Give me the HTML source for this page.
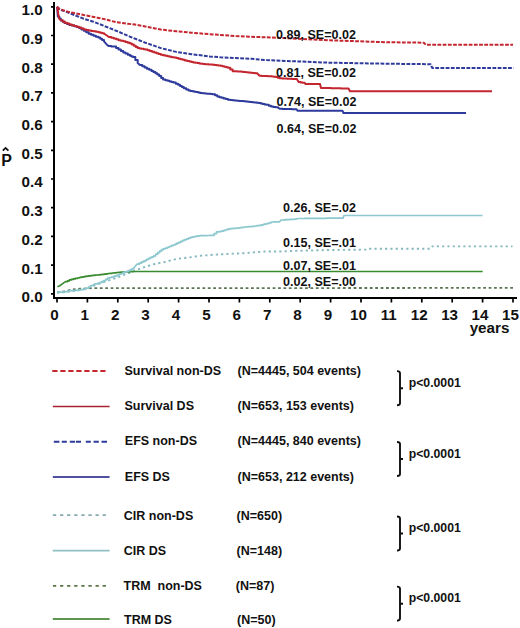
<!DOCTYPE html>
<html><head><meta charset="utf-8"><style>
html,body{margin:0;padding:0;background:#fff;}
body{width:520px;height:628px;overflow:hidden;}
svg{display:block;font-family:"Liberation Sans",sans-serif;}
text{fill:#111;}
</style></head><body>
<svg width="520" height="628" viewBox="0 0 520 628">
<polyline points="57.0,292.4 66.0,291.2 72.0,289.4 80.0,288.7 92.0,288.2 513.0,287.9" fill="none" stroke="#5e7656" stroke-width="1.8" stroke-linejoin="round" stroke-dasharray="2.8 2.6"/>
<polyline points="57.0,292.6 63.6,292.2 73.2,291.0 80.9,290.0 86.7,288.6 92.0,286.5 100.0,283.4 109.2,280.4 124.8,274.6 127.7,273.5 141.5,268.1 153.8,264.2 164.6,262.0 176.9,258.8 190.4,257.3 199.6,255.8 213.5,254.7 228.8,253.9 244.2,253.2 255.0,252.2 265.4,251.5 280.8,251.5 296.2,250.8 330.0,250.0 368.0,249.6 370.0,248.7 430.8,248.7 432.3,246.4 512.5,246.4" fill="none" stroke="#86b8c0" stroke-width="1.9" stroke-linejoin="round" stroke-dasharray="2.2 3.1"/>
<polyline points="57.4,286.8 59.8,285.7 62.7,283.6 65.5,281.6 67.5,281.6 67.5,280.8 69.4,280.8 69.4,279.9 71.3,279.9 71.3,279.4 73.3,279.4 73.3,278.9 75.2,278.9 75.2,278.4 77.1,278.4 77.1,278.0 79.0,278.0 79.0,277.5 80.9,277.5 80.9,277.1 82.8,277.1 82.8,276.8 84.8,276.8 84.8,276.4 86.7,276.4 86.7,276.1 88.6,276.1 88.6,275.9 90.6,275.9 90.6,275.6 92.5,275.6 92.5,275.4 94.4,275.4 94.4,275.2 96.3,275.2 96.3,275.0 98.1,275.0 98.1,274.8 100.0,274.8 100.0,274.6 102.0,274.6 102.0,274.4 104.0,274.4 104.0,274.2 105.9,274.2 105.9,273.9 107.8,273.9 107.8,273.5 109.9,273.5 109.9,273.3 112.1,273.3 112.1,273.0 114.2,273.0 114.2,272.8 116.4,272.8 116.4,272.5 118.5,272.5 118.5,272.3 120.7,272.3 120.7,272.2 122.9,272.2 122.9,272.1 125.1,272.1 125.1,272.0 127.2,272.0 127.2,271.8 129.4,271.8 129.4,271.7 131.6,271.7 131.6,271.6 133.8,271.6 133.8,271.5 482.7,271.5" fill="none" stroke="#3a8a30" stroke-width="1.7" stroke-linejoin="round"/>
<polyline points="57.0,292.3 59.2,292.3 59.2,292.2 61.4,292.2 61.4,292.1 63.6,292.1 63.6,292.0 65.5,292.0 65.5,291.6 67.5,291.6 67.5,291.2 69.4,291.2 69.4,290.8 73.2,290.6 75.1,290.6 75.1,290.4 77.1,290.4 77.1,290.1 79.0,290.1 79.0,289.9 80.9,289.9 80.9,289.6 82.8,289.6 82.8,289.4 84.8,289.4 84.8,289.2 86.7,288.2 88.6,288.2 88.6,287.0 90.5,287.0 90.5,285.8 92.5,285.4 95.3,283.8 97.8,283.8 97.8,283.1 100.2,283.1 100.2,282.4 102.1,282.4 102.1,281.4 104.0,281.4 104.0,280.5 105.8,280.5 105.8,279.3 107.7,279.3 107.7,278.1 109.6,278.1 109.6,277.5 111.6,277.5 111.6,277.0 113.5,277.0 113.5,276.4 115.4,276.4 115.4,275.8 117.3,275.8 117.3,275.0 119.2,275.0 119.2,274.2 121.2,274.2 121.2,273.5 123.1,273.5 123.1,272.7 125.0,272.7 125.0,271.9 127.0,271.9 127.0,271.1 128.9,271.1 128.9,270.4 130.8,270.4 130.8,269.6 132.4,269.6 132.4,268.6 134.0,268.6 134.0,267.7 136.9,264.2 139.2,264.2 139.2,263.1 141.6,263.1 141.6,261.9 143.9,261.9 143.9,260.8 146.2,260.8 146.2,259.6 148.1,259.6 148.1,258.7 150.0,258.7 150.0,257.7 151.9,257.7 151.9,256.8 153.8,256.8 153.8,255.8 155.7,255.8 155.7,254.2 157.7,254.2 157.7,252.7 159.6,252.7 159.6,251.2 161.5,251.2 161.5,249.6 163.4,249.6 163.4,248.8 165.3,248.8 165.3,248.1 167.3,248.1 167.3,247.3 169.2,247.3 169.2,246.5 171.1,246.5 171.1,245.7 173.1,245.7 173.1,245.0 175.0,245.0 175.0,244.2 176.9,244.2 176.9,243.2 178.8,243.2 178.8,242.3 180.8,242.3 180.8,241.3 182.7,241.3 182.7,240.4 184.6,240.4 184.6,239.6 186.6,239.6 186.6,238.9 188.5,238.9 188.5,238.1 190.4,238.1 190.4,237.3 192.3,237.3 192.3,236.9 194.2,236.9 194.2,236.6 196.2,236.6 196.2,236.2 198.1,236.2 198.1,235.8 200.4,235.8 200.4,235.7 202.7,235.7 202.7,235.6 205.0,235.6 205.0,235.6 207.3,235.6 207.3,235.5 209.6,235.5 209.6,235.4 211.9,235.4 211.9,235.3 214.2,235.3 214.2,233.6 216.5,233.6 216.5,231.9 218.8,231.9 218.8,231.6 221.2,231.6 221.2,231.2 223.1,231.2 223.1,230.6 225.0,230.6 225.0,230.0 226.9,230.0 226.9,229.4 228.8,229.4 228.8,228.8 230.7,228.8 230.7,228.6 232.7,228.6 232.7,228.4 234.6,228.4 234.6,228.3 236.5,228.3 236.5,228.1 238.4,228.1 238.4,227.8 240.3,227.8 240.3,227.6 242.3,227.6 242.3,227.3 244.2,227.3 244.2,227.0 246.1,227.0 246.1,226.9 248.1,226.9 248.1,226.7 250.0,226.7 250.0,226.6 252.3,226.6 252.3,226.3 254.6,226.3 254.6,226.0 256.9,226.0 256.9,225.7 259.2,225.7 259.2,225.4 261.5,225.4 261.5,224.8 263.9,224.8 263.9,224.2 266.2,224.2 266.2,223.7 268.5,223.7 268.5,223.1 270.0,223.1 270.0,222.6 271.5,222.6 271.5,222.0 273.5,222.0 273.5,221.9 275.6,221.9 275.6,221.8 277.6,221.8 277.6,221.8 279.6,221.8 279.6,221.7 281.0,220.0 283.2,220.0 283.2,219.9 285.4,219.9 285.4,219.7 287.6,219.7 287.6,219.6 289.9,219.6 289.9,219.4 292.1,219.4 292.1,219.3 294.3,219.3 294.3,219.1 296.5,219.1 296.5,219.0 297.7,218.5 300.1,218.5 300.1,218.5 302.5,218.5 302.5,218.5 304.9,218.5 304.9,218.4 307.2,218.4 307.2,218.4 309.6,218.4 309.6,218.4 312.0,218.4 312.0,218.4 314.4,218.4 314.4,218.4 316.8,218.4 316.8,218.3 319.2,218.3 319.2,218.3 321.5,218.3 321.5,218.3 323.9,218.3 323.9,218.3 326.3,218.3 326.3,218.2 328.7,218.2 328.7,218.2 331.1,218.2 331.1,218.2 333.5,218.2 333.5,218.2 335.8,218.2 335.8,218.2 338.2,218.2 338.2,218.1 340.6,218.1 340.6,218.1 343.0,218.1 343.0,218.1 344.0,215.5 482.5,215.5" fill="none" stroke="#8cc8ce" stroke-width="1.7" stroke-linejoin="round"/>
<polyline points="57.0,6.8 59.8,9.7 64.6,11.1 69.4,13.0 74.2,15.0 79.0,16.9 83.8,18.8 88.7,20.3 93.5,21.7 98.3,23.6 104.0,25.9 108.8,27.8 118.5,31.7 130.0,36.7 145.4,42.7 160.8,48.1 176.2,51.9 191.5,54.2 210.0,56.5 220.4,57.3 235.8,58.1 251.2,58.8 266.5,60.1 285.0,60.9 330.0,62.7 384.8,63.7 430.6,64.2 432.2,67.9 513.5,67.9" fill="none" stroke="#2e3a9c" stroke-width="2.0" stroke-linejoin="round" stroke-dasharray="3.8 1.4"/>
<polyline points="57.0,6.8 59.8,9.2 64.6,10.7 69.4,12.1 74.2,13.1 79.0,14.0 83.8,15.0 88.7,15.9 93.5,16.9 98.3,17.9 105.0,19.3 116.5,22.3 124.2,23.3 135.0,24.6 145.4,26.5 160.8,29.6 176.2,31.2 191.5,32.7 210.0,34.2 220.4,35.0 235.8,36.1 251.2,36.8 266.5,37.3 285.0,38.1 330.0,40.3 384.8,42.2 423.8,42.7 425.9,44.8 513.0,44.8" fill="none" stroke="#c42630" stroke-width="2.0" stroke-linejoin="round" stroke-dasharray="3.8 1.4"/>
<polyline points="57.0,6.8 57.3,9.0 57.8,16.5 59.3,16.5 59.3,18.5 60.8,18.5 60.8,20.5 62.7,20.5 62.7,21.8 64.6,21.8 64.6,23.0 67.0,23.0 67.0,23.9 69.4,23.9 69.4,24.9 71.8,24.9 71.8,25.6 74.2,25.6 74.2,26.3 76.6,26.3 76.6,27.1 79.0,27.1 79.0,27.9 81.4,27.9 81.4,29.4 83.8,29.4 83.8,30.8 86.2,30.8 86.2,32.2 88.7,32.2 88.7,33.7 91.1,33.7 91.1,34.7 93.5,34.7 93.5,35.7 95.9,35.7 95.9,36.7 98.3,36.7 98.3,37.6 100.2,37.6 100.2,38.8 102.1,38.8 102.1,40.1 104.0,40.1 104.0,41.3 106.9,44.7 108.8,46.1 111.2,46.1 111.2,46.4 113.7,46.4 113.7,46.6 116.1,46.6 116.1,48.0 118.5,48.0 118.5,49.5 120.9,49.5 120.9,51.0 123.3,51.0 123.3,52.4 125.5,52.4 125.5,53.5 127.8,53.5 127.8,54.7 130.0,54.7 130.0,55.8 131.5,55.8 131.5,56.4 133.0,56.4 133.0,57.0 135.3,57.0 135.3,60.0 137.7,60.0 137.7,63.0 140.0,65.0 142.3,65.0 142.3,66.2 144.6,66.2 144.6,67.5 146.9,67.5 146.9,68.7 149.2,68.7 149.2,69.8 151.5,69.8 151.5,71.0 153.4,71.0 153.4,72.1 155.4,72.1 155.4,73.3 157.3,73.3 157.3,74.4 159.2,74.4 159.2,76.1 161.2,76.1 161.2,77.9 163.1,77.9 163.1,79.6 165.4,79.6 165.4,80.2 167.7,80.2 167.7,80.8 169.6,80.8 169.6,81.4 171.6,81.4 171.6,81.9 173.5,81.9 173.5,82.5 175.8,82.5 175.8,83.7 178.1,83.7 178.1,84.8 180.0,84.8 180.0,86.0 181.9,86.0 181.9,87.1 183.8,87.1 183.8,88.3 186.2,88.3 186.2,89.4 188.5,89.4 188.5,90.6 190.4,90.6 190.4,91.0 192.3,91.0 192.3,91.3 194.2,91.3 194.2,91.7 196.1,91.7 196.1,92.1 198.1,92.1 198.1,92.5 200.0,92.5 200.0,92.9 202.5,92.9 202.5,93.2 205.0,93.2 205.0,93.5 206.9,93.5 206.9,93.7 208.8,93.7 208.8,93.8 210.8,93.8 210.8,94.0 212.7,94.0 212.7,94.2 215.0,94.2 215.0,95.3 217.3,95.3 217.3,96.5 219.4,96.5 219.4,97.2 221.6,97.2 221.6,97.8 223.7,97.8 223.7,98.5 225.9,98.5 225.9,99.1 228.0,99.1 228.0,99.8 230.2,99.8 230.2,100.0 232.4,100.0 232.4,100.2 234.6,100.2 234.6,100.4 236.9,100.4 236.9,100.7 239.1,100.7 239.1,100.9 241.3,100.9 241.3,101.1 243.5,101.1 243.5,101.3 245.7,101.3 245.7,101.6 247.9,101.6 247.9,101.8 250.1,101.8 250.1,102.1 252.2,102.1 252.2,102.3 254.4,102.3 254.4,102.6 256.6,102.6 256.6,102.8 258.8,102.8 258.8,103.1 260.7,103.1 260.7,103.5 262.6,103.5 262.6,103.9 264.6,103.9 264.6,104.4 266.5,104.4 266.5,104.8 268.8,104.8 268.8,105.7 271.0,105.7 271.0,106.5 273.3,106.5 273.3,106.9 275.7,106.9 275.7,107.3 278.0,107.3 278.0,107.7 280.0,108.8 282.4,108.8 282.4,108.9 284.7,108.9 284.7,108.9 287.1,108.9 287.1,109.0 289.4,109.0 289.4,109.1 291.8,109.1 291.8,109.2 294.1,109.2 294.1,109.2 296.5,109.2 296.5,109.3 297.5,110.8 342.5,110.8 343.5,113.0 466.0,113.0" fill="none" stroke="#2e3a9c" stroke-width="2.0" stroke-linejoin="round"/>
<polyline points="57.0,6.8 57.6,9.0 58.8,17.9 60.8,20.3 62.7,20.3 62.7,21.5 64.6,21.5 64.6,22.7 67.0,22.7 67.0,23.6 69.4,23.6 69.4,24.6 71.8,24.6 71.8,25.3 74.2,25.3 74.2,26.0 76.6,26.0 76.6,26.8 79.0,26.8 79.0,27.5 81.4,27.5 81.4,28.4 83.8,28.4 83.8,29.4 86.2,29.4 86.2,29.9 88.7,29.9 88.7,30.4 91.1,30.4 91.1,30.9 93.5,30.9 93.5,31.3 95.9,31.3 95.9,31.8 98.3,31.8 98.3,32.3 100.2,32.3 100.2,32.7 102.1,32.7 102.1,33.2 104.0,33.2 104.0,33.6 106.9,35.5 108.8,37.0 111.2,37.0 111.2,37.7 113.7,37.7 113.7,38.4 116.1,38.4 116.1,39.3 118.5,39.3 118.5,40.3 120.9,40.3 120.9,40.8 123.3,40.8 123.3,41.3 125.5,41.3 125.5,42.0 127.8,42.0 127.8,42.7 130.0,42.7 130.0,43.4 131.9,43.4 131.9,44.5 133.8,44.5 133.8,45.7 135.8,45.7 135.8,46.9 137.7,46.9 137.7,48.0 139.6,48.0 139.6,48.4 141.6,48.4 141.6,48.8 143.5,48.8 143.5,49.2 145.4,49.2 145.4,49.6 147.6,49.6 147.6,50.3 149.8,50.3 149.8,51.1 152.0,51.1 152.0,51.8 154.2,51.8 154.2,52.6 156.4,52.6 156.4,53.3 158.6,53.3 158.6,54.1 160.8,54.1 160.8,54.8 163.0,54.8 163.0,55.3 165.2,55.3 165.2,55.7 167.4,55.7 167.4,56.2 169.6,56.2 169.6,56.7 171.8,56.7 171.8,57.2 174.0,57.2 174.0,57.6 176.2,57.6 176.2,58.1 178.4,58.1 178.4,58.7 180.6,58.7 180.6,59.2 182.8,59.2 182.8,59.8 184.9,59.8 184.9,60.4 187.1,60.4 187.1,61.0 189.3,61.0 189.3,61.5 191.5,61.5 191.5,62.1 193.4,62.1 193.4,62.5 195.3,62.5 195.3,62.8 197.3,62.8 197.3,63.1 199.2,63.1 199.2,63.5 201.1,63.5 201.1,63.7 203.1,63.7 203.1,64.0 205.0,64.0 205.0,64.2 206.9,64.2 206.9,64.3 208.8,64.3 208.8,64.5 210.8,64.5 210.8,64.6 212.7,64.6 212.7,64.7 214.6,64.7 214.6,65.0 216.6,65.0 216.6,65.2 218.5,65.2 218.5,65.5 220.4,65.5 220.4,65.8 222.3,65.8 222.3,66.3 224.2,66.3 224.2,66.8 226.1,66.8 226.1,67.3 228.0,67.3 228.0,67.8 230.3,67.8 230.3,69.5 232.7,69.5 232.7,71.2 234.9,71.2 234.9,71.3 237.0,71.3 237.0,71.5 239.2,71.5 239.2,71.6 241.3,71.6 241.3,71.8 243.5,71.8 243.5,71.9 245.8,71.9 245.8,72.2 248.1,72.2 248.1,72.4 250.4,72.4 250.4,72.7 252.7,72.7 252.7,73.0 255.0,73.0 255.0,73.2 257.3,73.2 257.3,73.5 259.6,75.8 261.7,75.8 261.7,75.9 263.8,75.9 263.8,76.0 265.8,76.0 265.8,76.1 267.9,76.1 267.9,76.2 270.0,76.2 270.0,76.3 271.9,76.3 271.9,76.5 273.9,76.5 273.9,76.8 275.8,76.8 275.8,77.0 277.7,77.0 277.7,77.7 279.6,77.7 279.6,78.3 282.1,78.3 282.1,78.4 284.5,78.4 284.5,78.6 287.0,78.6 287.0,78.7 289.5,78.7 289.5,78.8 292.0,78.8 292.0,78.9 294.4,78.9 294.4,79.1 296.9,79.1 296.9,79.2 298.8,82.1 300.7,82.1 300.7,82.4 302.7,82.4 302.7,82.7 304.6,82.7 304.6,83.0 305.6,84.0 320.0,84.0 321.0,88.0 323.5,88.0 323.5,88.0 326.0,88.0 326.0,88.1 328.5,88.1 328.5,88.1 331.0,88.1 331.0,88.2 333.5,88.2 333.5,88.2 336.0,88.2 336.0,88.3 338.5,88.3 338.5,88.3 341.0,88.3 341.0,88.4 343.5,88.4 343.5,88.4 346.0,88.4 346.0,88.5 348.5,88.5 348.5,88.5 350.0,91.3 492.0,91.3" fill="none" stroke="#c42630" stroke-width="2.0" stroke-linejoin="round"/>
<path d="M54,2 V298.5 M53,298 H517" stroke="#000" stroke-width="2" fill="none"/>
<path d="M51,6.8 H54 M51,35.5 H54 M51,64.2 H54 M51,92.9 H54 M51,121.6 H54 M51,150.3 H54 M51,179.0 H54 M51,207.7 H54 M51,236.4 H54 M51,265.1 H54 M51,293.8 H54 M57.0,298 V302.5 M87.4,298 V302.5 M117.8,298 V302.5 M148.2,298 V302.5 M178.6,298 V302.5 M209.0,298 V302.5 M239.4,298 V302.5 M269.8,298 V302.5 M300.2,298 V302.5 M330.6,298 V302.5 M361.0,298 V302.5 M391.4,298 V302.5 M421.8,298 V302.5 M452.2,298 V302.5 M482.6,298 V302.5 M513.0,298 V302.5" stroke="#000" stroke-width="1.7" fill="none"/>
<text x="42.6" y="15.2" font-size="15.2" font-weight="bold" text-anchor="end">1.0</text>
<text x="42.6" y="43.9" font-size="15.2" font-weight="bold" text-anchor="end">0.9</text>
<text x="42.6" y="72.6" font-size="15.2" font-weight="bold" text-anchor="end">0.8</text>
<text x="42.6" y="101.3" font-size="15.2" font-weight="bold" text-anchor="end">0.7</text>
<text x="42.6" y="130.0" font-size="15.2" font-weight="bold" text-anchor="end">0.6</text>
<text x="42.6" y="158.7" font-size="15.2" font-weight="bold" text-anchor="end">0.5</text>
<text x="42.6" y="187.4" font-size="15.2" font-weight="bold" text-anchor="end">0.4</text>
<text x="42.6" y="216.1" font-size="15.2" font-weight="bold" text-anchor="end">0.3</text>
<text x="42.6" y="244.8" font-size="15.2" font-weight="bold" text-anchor="end">0.2</text>
<text x="42.6" y="273.5" font-size="15.2" font-weight="bold" text-anchor="end">0.1</text>
<text x="42.6" y="302.2" font-size="15.2" font-weight="bold" text-anchor="end">0.0</text>
<text x="54.4" y="320" font-size="15.2" font-weight="bold" text-anchor="middle">0</text>
<text x="84.8" y="320" font-size="15.2" font-weight="bold" text-anchor="middle">1</text>
<text x="115.2" y="320" font-size="15.2" font-weight="bold" text-anchor="middle">2</text>
<text x="145.6" y="320" font-size="15.2" font-weight="bold" text-anchor="middle">3</text>
<text x="176.0" y="320" font-size="15.2" font-weight="bold" text-anchor="middle">4</text>
<text x="206.4" y="320" font-size="15.2" font-weight="bold" text-anchor="middle">5</text>
<text x="236.8" y="320" font-size="15.2" font-weight="bold" text-anchor="middle">6</text>
<text x="267.2" y="320" font-size="15.2" font-weight="bold" text-anchor="middle">7</text>
<text x="297.6" y="320" font-size="15.2" font-weight="bold" text-anchor="middle">8</text>
<text x="328.0" y="320" font-size="15.2" font-weight="bold" text-anchor="middle">9</text>
<text x="358.4" y="320" font-size="15.2" font-weight="bold" text-anchor="middle">10</text>
<text x="388.8" y="320" font-size="15.2" font-weight="bold" text-anchor="middle">11</text>
<text x="419.2" y="320" font-size="15.2" font-weight="bold" text-anchor="middle">12</text>
<text x="449.6" y="320" font-size="15.2" font-weight="bold" text-anchor="middle">13</text>
<text x="480.0" y="320" font-size="15.2" font-weight="bold" text-anchor="middle">14</text>
<text x="510.4" y="320" font-size="15.2" font-weight="bold" text-anchor="middle">15</text>
<text x="489.5" y="332.6" font-size="15.2" font-weight="bold" text-anchor="middle">years</text>
<text x="1.2" y="166.0" font-size="16" font-weight="bold">P</text>
<path d="M2.8,150.6 L5.6,147.9 L8.4,150.6" stroke="#111" stroke-width="1.8" fill="none"/>
<text x="276.1" y="38.6" font-size="12.55" font-weight="bold">0.89, SE=0.02</text>
<text x="276.1" y="76.9" font-size="12.55" font-weight="bold">0.81, SE=0.02</text>
<text x="276.6" y="105.7" font-size="12.55" font-weight="bold">0.74, SE=0.02</text>
<text x="276.6" y="132.7" font-size="12.55" font-weight="bold">0.64, SE=0.02</text>
<text x="283.1" y="212.2" font-size="12.55" font-weight="bold">0.26, SE=.02</text>
<text x="283.1" y="246.8" font-size="12.55" font-weight="bold">0.15, SE=.01</text>
<text x="283.1" y="270.3" font-size="12.55" font-weight="bold">0.07, SE=.01</text>
<text x="283.1" y="285.7" font-size="12.55" font-weight="bold">0.02, SE=.00</text>
<path d="M52.3,370.9 H57.5 M60.3,370.9 H65.5 M68.3,370.9 H73.5 M76.3,370.9 H81.5 M84.3,370.9 H89.5 M92.3,370.9 H97.5 M100.3,370.9 H105.5" stroke="#c42630" stroke-width="2.0" fill="none"/>
<text x="124.5" y="374.6" font-size="12.5" font-weight="bold">Survival non-DS</text>
<text x="237.6" y="374.6" font-size="12.5" font-weight="bold">(N=4445, 504 events)</text>
<path d="M52.8,406.5 H109.6" stroke="#a82230" stroke-width="1.7" fill="none"/>
<text x="124.5" y="410.0" font-size="12.5" font-weight="bold">Survival DS</text>
<text x="237.6" y="410.0" font-size="12.5" font-weight="bold">(N=653, 153 events)</text>
<path d="M53.8,441.8 H59.4 M61.8,441.8 H66.8 M69.8,441.8 H75.0 M75.9,441.8 H81.0 M85.8,441.8 H90.8 M93.6,441.8 H98.8 M101.5,441.8 H107.0" stroke="#2e3a9c" stroke-width="2.0" fill="none"/>
<text x="124.8" y="445.3" font-size="12.5" font-weight="bold">EFS non-DS</text>
<text x="237.6" y="445.3" font-size="12.5" font-weight="bold">(N=4445, 840 events)</text>
<path d="M52.8,477.0 H109.6" stroke="#5050a0" stroke-width="2.0" fill="none"/>
<text x="124.8" y="481.0" font-size="12.5" font-weight="bold">EFS DS</text>
<text x="237.6" y="481.0" font-size="12.5" font-weight="bold">(N=653, 212 events)</text>
<path d="M52.9,515.1 H56.2 M60.0,515.1 H63.3 M67.1,515.1 H70.4 M74.2,515.1 H77.5 M81.3,515.1 H84.6 M88.4,515.1 H91.7 M95.5,515.1 H98.8 M102.6,515.1 H105.9" stroke="#86aab0" stroke-width="1.8" fill="none"/>
<text x="123.8" y="520.0" font-size="12.5" font-weight="bold">CIR non-DS</text>
<text x="236.6" y="520.0" font-size="12.5" font-weight="bold">(N=650)</text>
<path d="M52.8,550.6 H109.6" stroke="#8ec0c4" stroke-width="1.7" fill="none"/>
<text x="123.8" y="555.0" font-size="12.5" font-weight="bold">CIR DS</text>
<text x="236.6" y="555.0" font-size="12.5" font-weight="bold">(N=148)</text>
<path d="M52.9,585.9 H56.2 M60.0,585.9 H63.3 M67.1,585.9 H70.4 M74.2,585.9 H77.5 M81.3,585.9 H84.6 M88.4,585.9 H91.7 M95.5,585.9 H98.8 M102.6,585.9 H105.9" stroke="#5a7846" stroke-width="1.9" fill="none"/>
<text x="123.5" y="589.8" font-size="12.5" font-weight="bold">TRM&#160; non-DS</text>
<text x="235.8" y="589.8" font-size="12.5" font-weight="bold">(N=87)</text>
<path d="M52.8,619.0 H109.6" stroke="#5f9650" stroke-width="2.0" fill="none"/>
<text x="124.0" y="624.0" font-size="12.5" font-weight="bold">TRM DS</text>
<text x="237.0" y="624.0" font-size="12.5" font-weight="bold">(N=50)</text>
<path d="M397,371.1 Q400,371.1 400,373.2 V403.2 Q400,405.3 397,405.3 M400,388.2 H403" stroke="#111" stroke-width="1.9" fill="none"/>
<text x="408.7" y="386.8" font-size="12.25" font-weight="bold">p&lt;0.0001</text>
<path d="M397,442.0 Q400,442.0 400,444.1 V473.9 Q400,476.0 397,476.0 M400,459.0 H403" stroke="#111" stroke-width="1.9" fill="none"/>
<text x="408.7" y="457.6" font-size="12.25" font-weight="bold">p&lt;0.0001</text>
<path d="M397,516.5 Q400,516.5 400,518.6 V548.5 Q400,550.6 397,550.6 M400,533.5 H403" stroke="#111" stroke-width="1.9" fill="none"/>
<text x="408.7" y="532.1" font-size="12.25" font-weight="bold">p&lt;0.0001</text>
<path d="M397,586.6 Q400,586.6 400,588.7 V618.6 Q400,620.7 397,620.7 M400,603.7 H403" stroke="#111" stroke-width="1.9" fill="none"/>
<text x="408.7" y="602.3" font-size="12.25" font-weight="bold">p&lt;0.0001</text>
</svg>
</body></html>
